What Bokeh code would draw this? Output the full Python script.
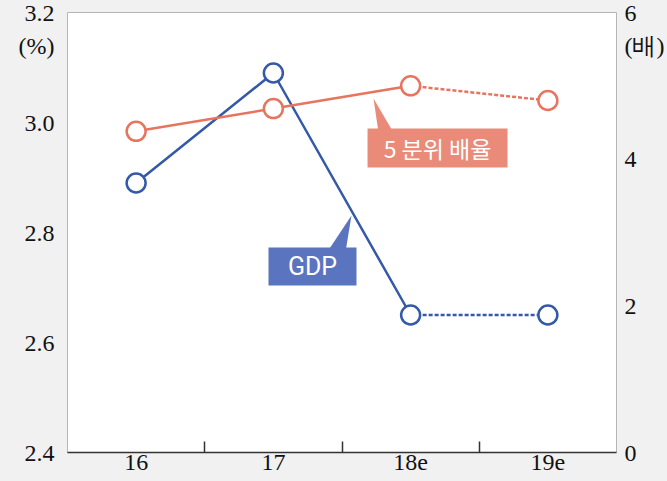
from bokeh.plotting import figure
from bokeh.models import (Range1d, LinearAxis, FixedTicker, NumeralTickFormatter,
                          BoxAnnotation, PolyAnnotation, Label)
from bokeh.embed import file_html
from bokeh.resources import INLINE

# ---- data ----
years = ["16", "17", "18e", "19e"]
gdp = [2.89, 3.09, 2.65, 2.65]          # left axis, %
ratio = [4.38, 4.69, 5.00, 4.80]        # right axis, 배
left_ticks = [2.4, 2.6, 2.8, 3.0, 3.2]
right_ticks = [0, 2, 4, 6]
left_unit, right_unit = "(%)", "(배)"
n_actual = 3   # first three points joined with solid lines, last segment dashed

BLUE = "#3459a9"
RED = "#e8735f"
BLUE_BOX = "#5b74bf"
RED_BOX = "#ea8b79"
BG = "#f1f1f1"
TICK_FONT = "Liberation Sans Narrow"

W, H = 667, 481
xs = [i + 0.5 for i in range(len(years))]

# unit captions sit just under the top tick label of each axis
LEFT_UNIT_POS = 3.14
RIGHT_UNIT_POS = 5.55

p = figure(width=W, height=H, output_backend="svg", toolbar_location=None,
           x_range=Range1d(0, len(years)), y_range=Range1d(2.4, 3.2),
           min_border_left=67, min_border_right=51, min_border_top=12, min_border_bottom=29)
p.extra_y_ranges = {"ratio": Range1d(0, 6)}
p.background_fill_color = "white"
p.border_fill_color = BG
p.outline_line_color = "#b5b5b5"
p.outline_line_width = 1
p.xgrid.visible = False
p.ygrid.visible = False

# x axis
xa = p.xaxis[0]
xa.ticker = FixedTicker(ticks=xs, minor_ticks=[1, 2, 3])
xa.major_label_overrides = {x: y for x, y in zip(xs, years)}
xa.major_tick_line_color = None
xa.major_tick_out = 0
xa.minor_tick_in = 11
xa.minor_tick_out = 0
xa.minor_tick_line_color = "#333333"
xa.minor_tick_line_width = 1.5
xa.axis_line_color = "#333333"
xa.axis_line_width = 1.5
xa.major_label_standoff = 2
xa.major_label_text_font = TICK_FONT
xa.major_label_text_font_size = "24px"
xa.major_label_text_color = "#111111"

# left axis
ya = p.yaxis[0]
ya.ticker = FixedTicker(ticks=left_ticks + [LEFT_UNIT_POS])
ya.formatter = NumeralTickFormatter(format="0.0")
ya.major_label_overrides = {LEFT_UNIT_POS: left_unit}
ya.axis_line_color = None
ya.major_tick_line_color = None
ya.major_tick_out = 0
ya.minor_tick_line_color = None
ya.major_label_standoff = 13
ya.major_label_text_font = TICK_FONT
ya.major_label_text_font_size = "24px"
ya.major_label_text_color = "#111111"

# right axis
ra = LinearAxis(y_range_name="ratio", ticker=FixedTicker(ticks=right_ticks + [RIGHT_UNIT_POS]),
                formatter=NumeralTickFormatter(format="0"))
ra.major_label_overrides = {RIGHT_UNIT_POS: right_unit}
ra.axis_line_color = None
ra.major_tick_line_color = None
ra.major_tick_out = 0
ra.minor_tick_line_color = None
ra.major_label_standoff = 8
ra.major_label_text_font = TICK_FONT
ra.major_label_text_font_size = "24px"
ra.major_label_text_color = "#111111"
p.add_layout(ra, "right")

# lines
p.line(xs[:n_actual], gdp[:n_actual], color=BLUE, line_width=2.5)
p.line(xs[n_actual - 1:], gdp[n_actual - 1:], color=BLUE, line_width=2.5, line_dash="4 2")
p.line(xs[:n_actual], ratio[:n_actual], color=RED, line_width=2.5, y_range_name="ratio")
p.line(xs[n_actual - 1:], ratio[n_actual - 1:], color=RED, line_width=2.5, line_dash="4 2",
       y_range_name="ratio")
p.scatter(xs, gdp, size=19, marker="circle", fill_color="white", line_color=BLUE, line_width=2.5)
p.scatter(xs, ratio, size=19, marker="circle", fill_color="white", line_color=RED, line_width=2.5,
          y_range_name="ratio")

# callouts
p.add_layout(PolyAnnotation(xs=[1.894, 2.026, 2.069], ys=[2.765, 2.765, 2.831],
                            fill_color=BLUE_BOX, fill_alpha=1, line_color=None))
p.add_layout(BoxAnnotation(left=1.4645, right=2.1056, bottom=2.7036, top=2.7727,
                           fill_color=BLUE_BOX, fill_alpha=1, line_color=None))
p.add_layout(Label(x=1.785, y=2.738, text="GDP", text_align="center", text_baseline="middle",
                   text_font="Roboto", text_font_size="25px", text_color="white"))

p.add_layout(PolyAnnotation(xs=[2.266, 2.375, 2.2295], ys=[2.982, 2.982, 3.0436],
                            fill_color=RED_BOX, fill_alpha=1, line_color=None))
p.add_layout(BoxAnnotation(left=2.186, right=3.206, bottom=2.918, top=2.989,
                           fill_color=RED_BOX, fill_alpha=1, line_color=None))
p.add_layout(Label(x=2.696, y=2.9536, text="5 분위 배율", text_align="center", text_baseline="middle",
                   text_font="Noto Sans CJK KR", text_font_size="23px", text_color="white"))

html = file_html(p, INLINE)
html = html.replace("<head>", "<head><style>body{background:#f1f1f1;}</style>", 1)
open("out.html", "w").write(html)
